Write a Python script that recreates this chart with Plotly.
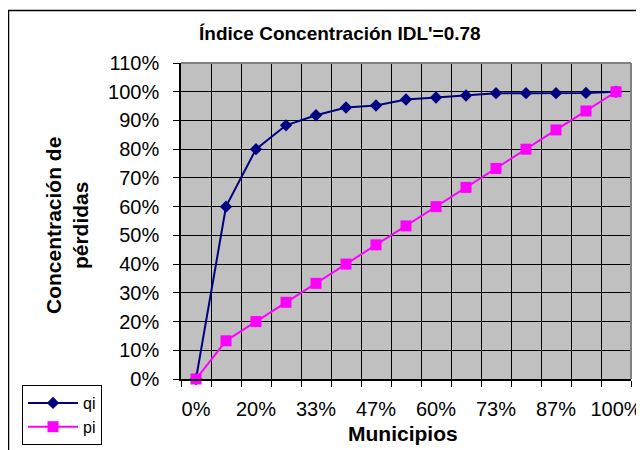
import plotly.graph_objects as go

categories = ["0%", "13%", "20%", "27%", "33%", "40%", "47%", "53%", "60%",
              "67%", "73%", "80%", "87%", "93%", "100%"]
qi = [0.0, 0.60, 0.80, 0.883, 0.918, 0.945, 0.952, 0.973, 0.980, 0.987,
      0.995, 0.995, 0.995, 0.996, 1.0]
pi = [0.0, 0.133, 0.200, 0.267, 0.333, 0.400, 0.467, 0.533, 0.600, 0.667,
      0.733, 0.800, 0.867, 0.933, 1.0]
shown_labels = ["0%", "20%", "33%", "47%", "60%", "73%", "87%", "100%"]
title_text = "Índice Concentración IDL'=0.78"

FONT = "Liberation Sans, Arial, sans-serif"
OFF = 8  # page body margin of the browser
W, H = 644 - OFF, 450 - OFF
# plot area in window pixels: x 181..631, y 63..379
PX0, PX1, PY0, PY1 = 181, 631, 63, 379
L, R, T, B = PX0 - OFF, W - (PX1 - OFF), PY0 - OFF, H - (PY1 - OFF)
pw, ph = PX1 - PX0, PY1 - PY0

def px(x):
    return (x - PX0) / pw

def py(y):
    return (PY1 - y) / ph

fig = go.Figure()
fig.add_trace(go.Scatter(
    x=categories, y=qi, name="qi", mode="lines+markers",
    line=dict(color="#000080", width=2),
    marker=dict(symbol="diamond", size=9.5, color="#000080"),
    cliponaxis=False))
fig.add_trace(go.Scatter(
    x=categories, y=pi, name="pi", mode="lines+markers",
    line=dict(color="#FF00FF", width=2),
    marker=dict(symbol="square", size=11, color="#FF00FF"),
    cliponaxis=False))

ticktext = [c if c in shown_labels else "" for c in categories]

fig.update_layout(
    width=W, height=H,
    margin=dict(l=L, r=R, t=T, b=B, autoexpand=False),
    paper_bgcolor="white", plot_bgcolor="#C0C0C0",
    font=dict(family=FONT, size=20, color="black"),
    showlegend=True,
    legend=dict(x=px(22), y=py(385), xanchor="left", yanchor="top",
                bordercolor="black", borderwidth=1, bgcolor="white",
                font=dict(size=16), tracegroupgap=0, itemwidth=50),
    xaxis=dict(type="category", categoryorder="array", categoryarray=categories,
               range=[-0.5, len(categories) - 0.5],
               tickvals=categories, ticktext=ticktext, tickson="boundaries",
               tickangle=0, automargin=False,
               showgrid=True, gridcolor="black", gridwidth=1,
               ticks="outside", ticklen=6, tickcolor="black",
               showline=True, linecolor="black", linewidth=2,
               ticklabelstandoff=11, zeroline=False, fixedrange=True),
    yaxis=dict(range=[0, 1.1], dtick=0.1, tick0=0, tickformat=".0%",
               automargin=False,
               showgrid=True, gridcolor="black", gridwidth=1,
               ticks="outside", ticklen=6, tickcolor="black",
               showline=True, linecolor="black", linewidth=1.5,
               ticklabelstandoff=10, zeroline=False, fixedrange=True),
    shapes=[
        dict(type="line", xref="paper", yref="paper", x0=0, x1=1, y0=1, y1=1,
             line=dict(color="#808080", width=2)),
        dict(type="line", xref="paper", yref="paper", x0=1, x1=1, y0=0, y1=1,
             line=dict(color="#808080", width=2)),
        dict(type="rect", xref="paper", yref="paper",
             x0=px(8.5), x1=px(660), y0=py(470), y1=py(10.5),
             line=dict(color="black", width=1.5)),
    ],
    annotations=[
        dict(text="<b>" + title_text + "</b>", xref="paper", yref="paper",
             x=px(340), y=py(34), xanchor="center", yanchor="middle",
             showarrow=False, font=dict(size=19)),
        dict(text="<b>Municipios</b>", xref="paper", yref="paper",
             x=px(403), y=py(433), xanchor="center", yanchor="middle",
             showarrow=False, font=dict(size=21)),
        dict(text="<b>Concentración de<br>pérdidas</b>", xref="paper", yref="paper",
             x=px(67), y=py(225), xanchor="center", yanchor="middle",
             textangle=-90, showarrow=False, font=dict(size=21)),
    ],
)

fig.write_html("out.html")
